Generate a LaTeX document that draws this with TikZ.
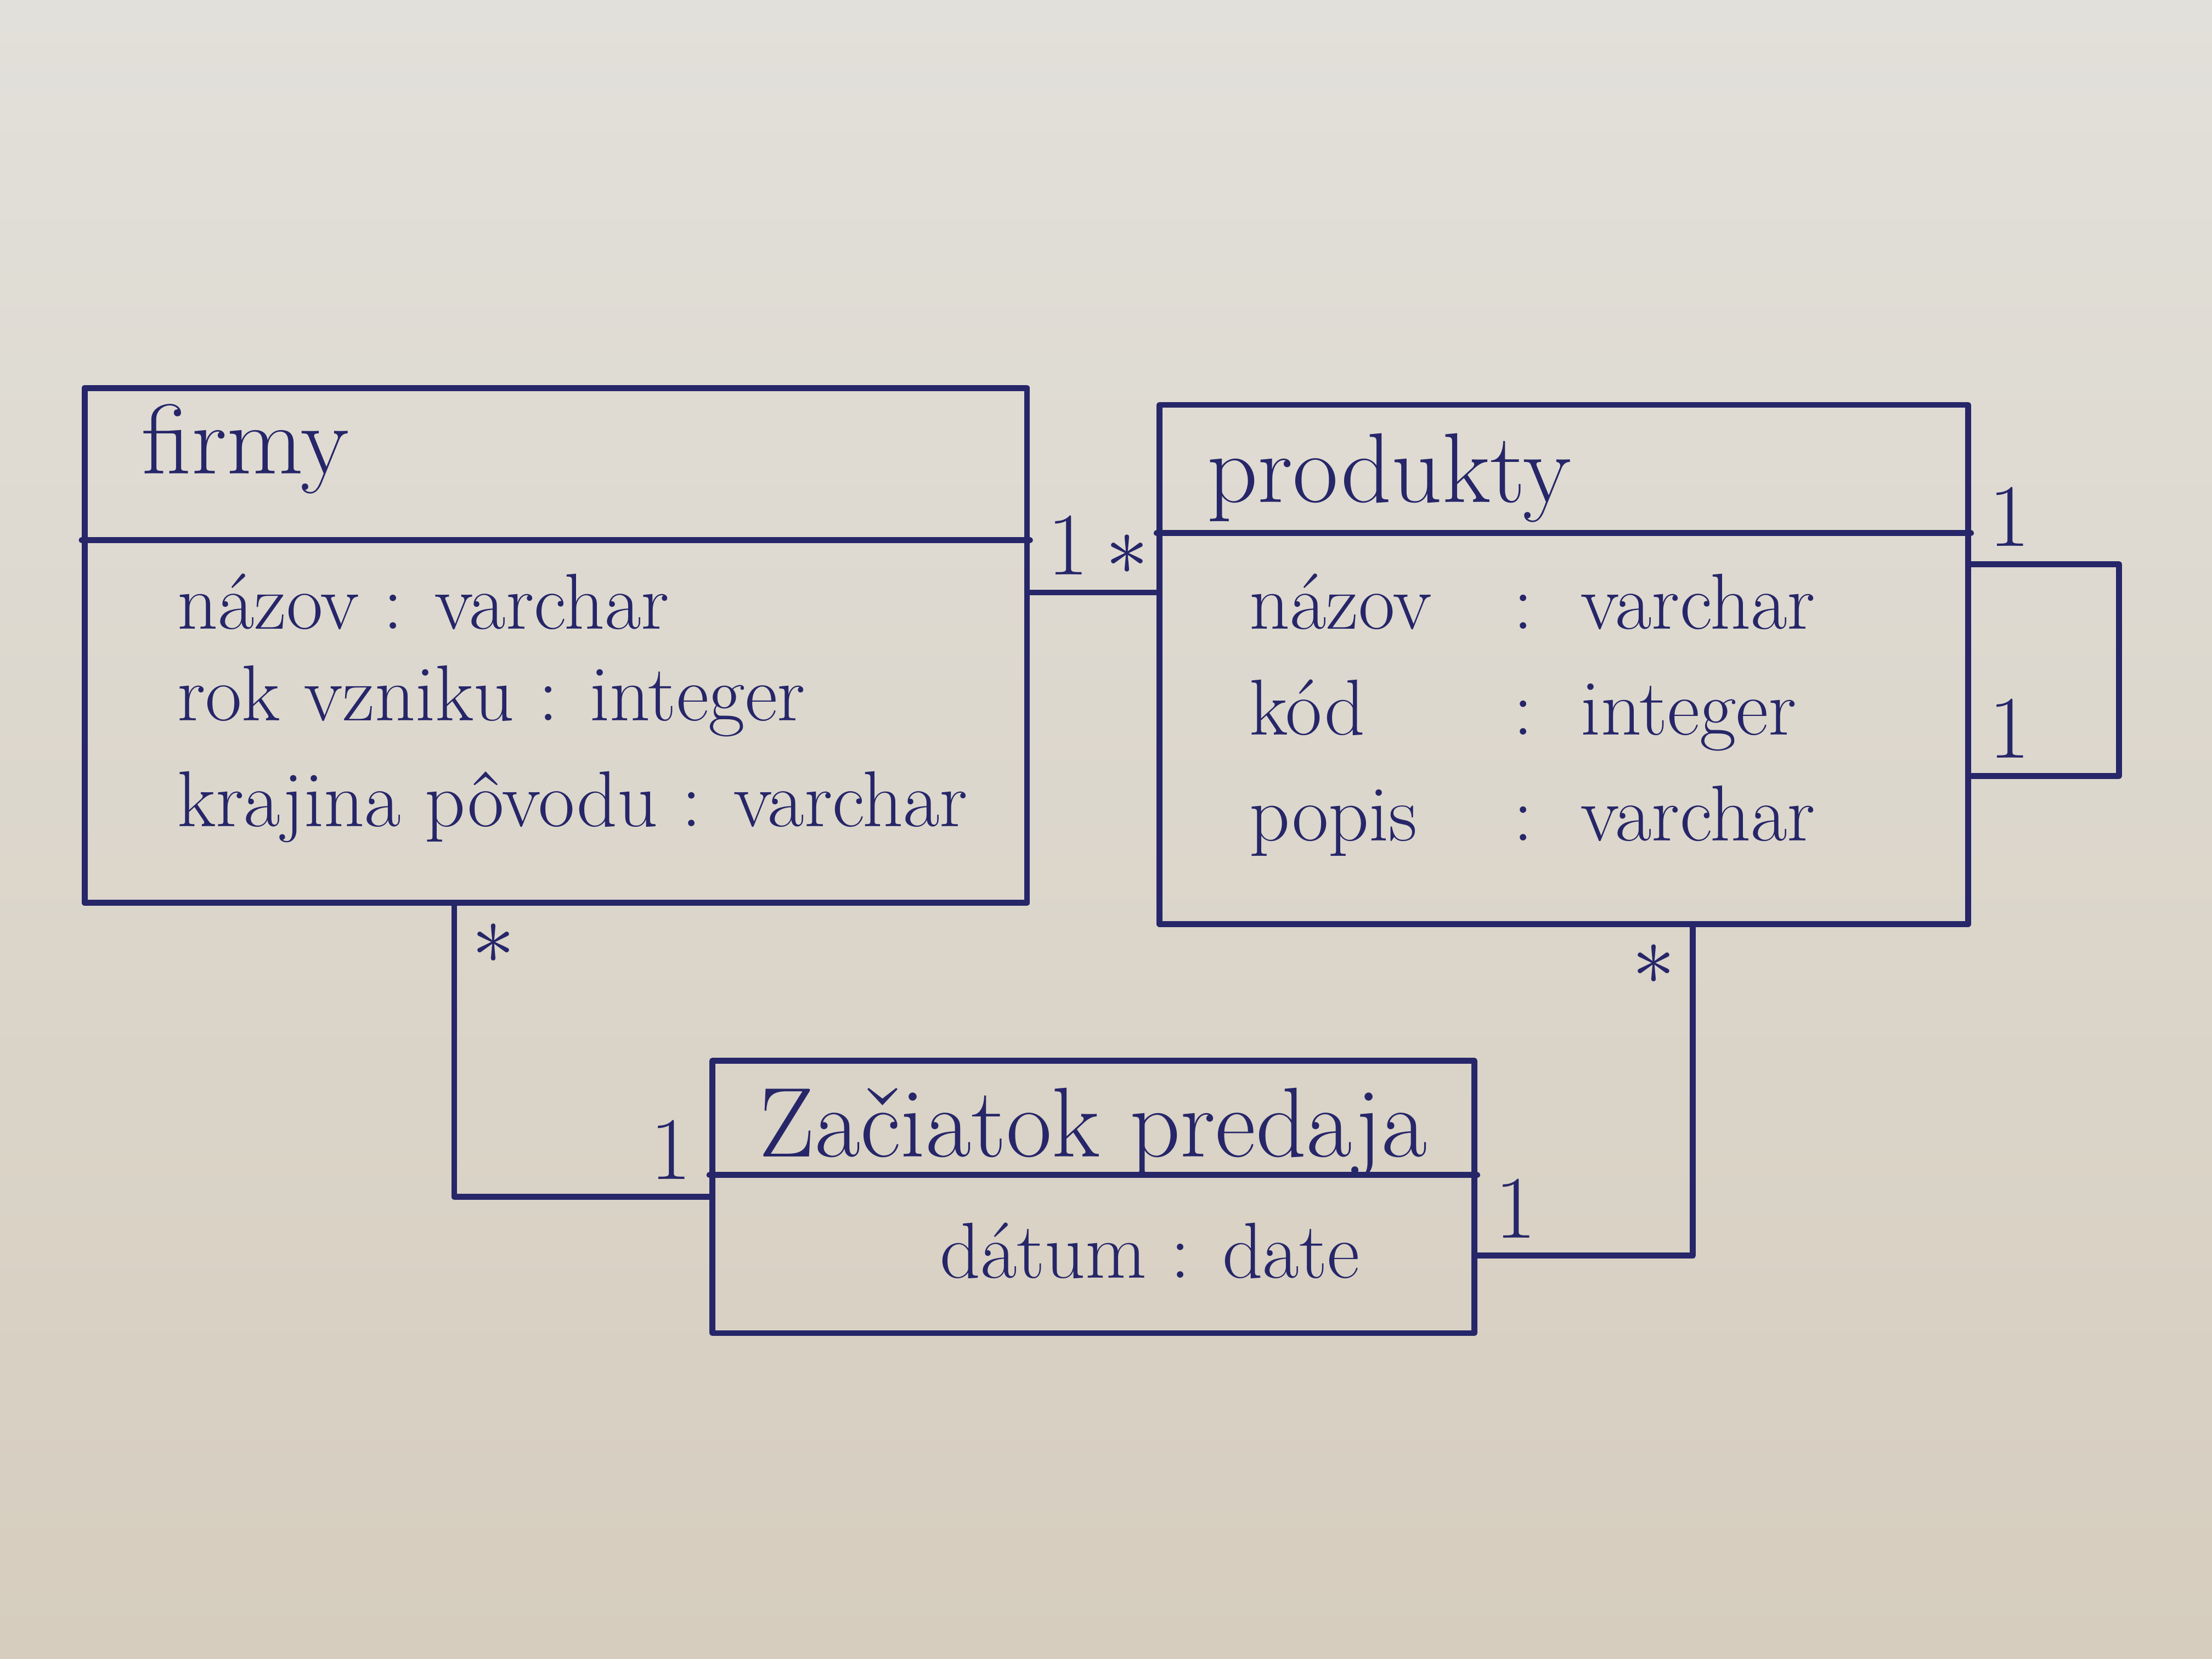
\documentclass[tikz,border=0pt]{standalone}
\usetikzlibrary{positioning}
\definecolor{ink}{RGB}{38,38,105}
\definecolor{paperTop}{RGB}{226,224,218}
\definecolor{paperBot}{RGB}{214,205,190}
\begin{document}
\begin{tikzpicture}[line join=round, line cap=round, font=\fontsize{16}{19}\selectfont,
  cls/.style={draw=ink, line width=1.2pt, inner sep=0pt},
  conn/.style={draw=ink, line width=1.2pt},
  txt/.style={text=ink, anchor=base west, inner sep=0pt},
  title/.style={txt, font=\fontsize{20}{24}\selectfont},
  mult/.style={text=ink, inner sep=3pt, font=\fontsize{18}{20}\selectfont}]
	\useasboundingbox (0,0) rectangle (15.68,11.76);
	\shade[top color=paperTop, bottom color=paperBot] (0,0) rectangle (15.68,11.76);
	
	\node[cls, minimum width=6.68cm, minimum height=3.65cm] (firmy) at (3.94,7.185) {};
	\node[cls, minimum width=5.73cm, minimum height=3.68cm] (produkty) at (11.085,7.05) {};
	\node[cls, minimum width=5.40cm, minimum height=1.93cm] (zaciatok) at (7.75,3.275) {};
	
	\foreach \cl/\d in {firmy/1.1, produkty/0.93, zaciatok/0.83}
	\draw[conn] ([yshift=-\d cm]\cl.north west) -- ([yshift=-\d cm]\cl.north east);
	
	\node[title] (firmyName) at (1.0,8.4) {firmy};
	\node[title] (produktyName) at (8.55,8.2) {produkty};
	\node[title, anchor=base] (zaciatokName) at (7.75,3.56) {Začiatok predaja};
	
	\foreach \y/\t in {7.3/názov : varchar, 6.65/rok vzniku : integer, 5.9/krajina pôvodu : varchar}
	\node[txt] at (1.25,\y) {\t};
	\foreach \y/\n/\t in {7.3/názov/varchar, 6.55/kód/integer, 5.8/popis/varchar}
	{\node[txt] at (8.85,\y) {\n};
	 \node[txt] at (10.72,\y) {:};
	 \node[txt] at (11.2,\y) {\t};}
	\node[txt, anchor=base] (datum) at (8.15,2.7) {dátum : date};
	
	\path (firmy.east) ++(0,0.375) coordinate (fpA);
	\path (firmy.south) ++(-0.72,0) coordinate (fzA);
	\path (produkty.south) ++(0.915,0) coordinate (pzA);
	\path (zaciatok.east) ++(0,-0.415) coordinate (pzB);
	\path (produkty.east) ++(0,0.71) coordinate (loopA);
	\path (produkty.east) ++(0,-0.79) coordinate (loopB);
	
	\draw[conn] (fpA) -- node[mult, pos=0, above right]{1} node[mult, pos=1, above left, xshift=2pt]{$\ast$} (fpA -| produkty.west);
	\draw[conn] (fzA) |- node[mult, pos=0, below right]{$\ast$} node[mult, pos=1, above left]{1} (zaciatok.west);
	\draw[conn] (pzA) |- node[mult, pos=0, below left]{$\ast$} node[mult, pos=1, above right]{1} (pzB);
	\draw[conn] (loopA) -- node[mult, pos=0, above right]{1} ++(1.05,0) |- node[mult, pos=1, above right]{1} (loopB);
\end{tikzpicture}
\end{document}
